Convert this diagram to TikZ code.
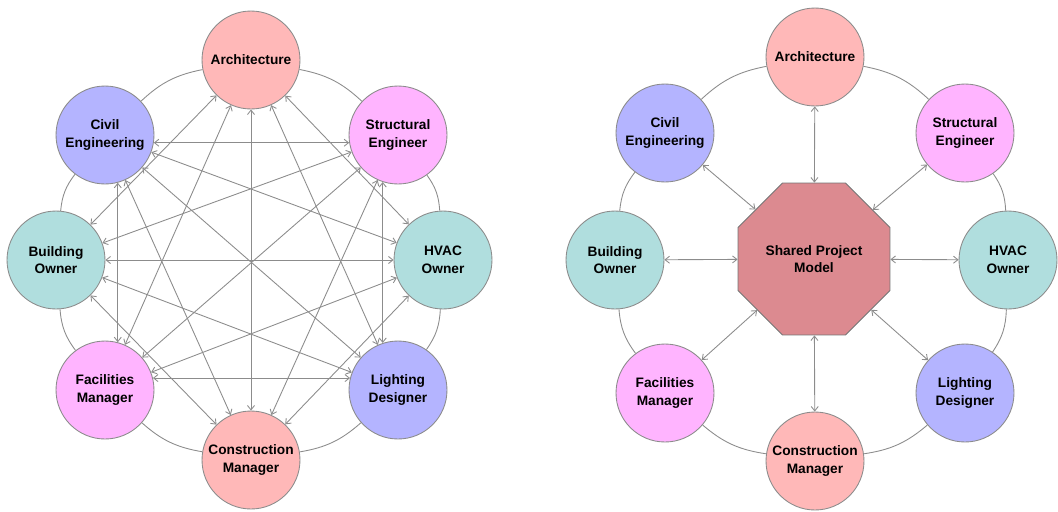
\documentclass[tikz,border=0pt]{standalone}
\usepackage{fontspec}
\setmainfont{Liberation Sans}
\usetikzlibrary{arrows.meta,shapes.geometric}
\definecolor{archpink}{HTML}{FFB8B8}
\definecolor{civblue}{HTML}{B4B4FF}
\definecolor{strmagenta}{HTML}{FFB4FF}
\definecolor{ownerteal}{HTML}{B0DEDE}
\definecolor{modelrose}{HTML}{DC8A90}
\definecolor{linkgray}{HTML}{8C8C8C}

\begin{document}
\begin{tikzpicture}[x=0.02cm,y=-0.02cm,
  party/.style={circle,draw=linkgray,line width=0.5pt,minimum size=1.96cm,inner sep=0pt,
    align=center,font=\fontsize{7.8}{10}\selectfont\bfseries},
  ring/.style={linkgray,line width=0.5pt,bend left=16},
  link/.style={linkgray,line width=0.5pt,
    {Straight Barb[length=2.5pt,width=4pt]}-{Straight Barb[length=2.5pt,width=4pt]}}]
  \useasboundingbox (0,0) rectangle (1058,511);

  % Left: everyone talks to everyone
  \node[party,fill=archpink]   (arch) at (251,60)  {Architecture};
  \node[party,fill=civblue]    (civ)  at (105,135) {Civil\\Engineering};
  \node[party,fill=strmagenta] (str)  at (398,135) {Structural\\Engineer};
  \node[party,fill=ownerteal]  (bld)  at (56,260)  {Building\\Owner};
  \node[party,fill=ownerteal]  (hvac) at (443,260) {HVAC\\Owner};
  \node[party,fill=strmagenta] (fac)  at (105,390) {Facilities\\Manager};
  \node[party,fill=civblue]    (lig)  at (398,390) {Lighting\\Designer};
  \node[party,fill=archpink]   (con)  at (251,460) {Construction\\Manager};

  % outer ring
  \draw[ring] (arch) to (str);
  \draw[ring] (str) to (hvac);
  \draw[ring] (hvac) to (lig);
  \draw[ring] (lig) to (con);
  \draw[ring] (con) to (fac);
  \draw[ring] (fac) to (bld);
  \draw[ring] (bld) to (civ);
  \draw[ring] (civ) to (arch);

  % mesh
  \draw[link] (civ.-9) -- (str.189);
  \draw[link] (fac.14) -- (lig.166);
  \draw[link] (civ.-75) -- (fac.75);
  \draw[link] (str.-108) -- (lig.108);
  \draw[link] (arch) -- (hvac);
  \draw[link] (hvac) -- (con);
  \draw[link] (con) -- (bld);
  \draw[link] (bld) -- (arch);
  \draw[link] (arch) -- (lig);
  \draw[link] (str) -- (con);
  \draw[link] (hvac) -- (fac);
  \draw[link] (lig) -- (bld);
  \draw[link] (con) -- (civ);
  \draw[link] (fac) -- (arch);
  \draw[link] (bld) -- (str);
  \draw[link] (civ) -- (hvac);
  \draw[link] (arch) -- (con);
  \draw[link] (str) -- (fac);
  \draw[link] (hvac) -- (bld);
  \draw[link] (lig) -- (civ);

  % Right: everyone talks to the model
  \node[regular polygon,regular polygon sides=8,minimum size=3.29cm,inner sep=0pt,
    fill=modelrose,draw=black!55,line width=0.5pt,align=center,
    font=\fontsize{7.8}{10}\selectfont\bfseries] (model) at (814,259) {Shared Project\\Model};
  \node[party,fill=archpink]   (rarch) at (815,57)  {Architecture};
  \node[party,fill=civblue]    (rciv)  at (665,133) {Civil\\Engineering};
  \node[party,fill=strmagenta] (rstr)  at (965,133) {Structural\\Engineer};
  \node[party,fill=ownerteal]  (rbld)  at (615,260) {Building\\Owner};
  \node[party,fill=ownerteal]  (rhvac) at (1008,260) {HVAC\\Owner};
  \node[party,fill=strmagenta] (rfac)  at (665,393) {Facilities\\Manager};
  \node[party,fill=civblue]    (rlig)  at (965,393) {Lighting\\Designer};
  \node[party,fill=archpink]   (rcon)  at (815,461) {Construction\\Manager};

  \draw[ring] (rarch) to (rstr);
  \draw[ring] (rstr) to (rhvac);
  \draw[ring] (rhvac) to (rlig);
  \draw[ring] (rlig) to (rcon);
  \draw[ring] (rcon) to (rfac);
  \draw[ring] (rfac) to (rbld);
  \draw[ring] (rbld) to (rciv);
  \draw[ring] (rciv) to (rarch);

  \draw[link] (rarch) -- (model);
  \draw[link] (rstr) -- (model);
  \draw[link] (rhvac) -- (model);
  \draw[link] (rlig) -- (model);
  \draw[link] (rcon) -- (model);
  \draw[link] (rfac) -- (model);
  \draw[link] (rbld) -- (model);
  \draw[link] (rciv) -- (model);
\end{tikzpicture}
\end{document}
